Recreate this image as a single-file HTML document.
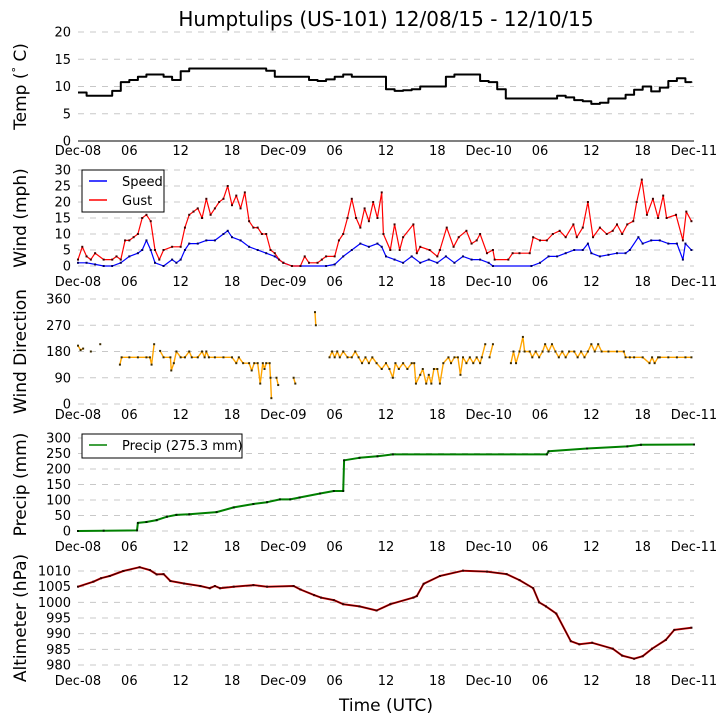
<!DOCTYPE html>
<html><head><meta charset="utf-8"><style>
html,body{margin:0;padding:0;background:#fff;}
svg{display:block;font-family:"DejaVu Sans","Liberation Sans",sans-serif;}
</style></head><body>
<svg id="chart" width="725" height="725" viewBox="0 0 725 725" xmlns="http://www.w3.org/2000/svg">
<text x="386" y="26" font-size="20" text-anchor="middle" fill="#000">Humptulips (US-101) 12/08/15 - 12/10/15</text>
<text x="386" y="711" font-size="17" text-anchor="middle" fill="#000">Time (UTC)</text>
</svg>
<script>
const xTickLabels = ["Dec-08","06","12","18","Dec-09","06","12","18","Dec-10","06","12","18","Dec-11"];
const tempTimes = [0,1,2,3,4,5,6,7,8,9,10,11,12,13,14,15,16,17,18,19,20,21,22,23,24,25,26,27,28,29,30,31,32,33,34,35,36,37,38,39,40,41,42,43,44,45,46,47,48,49,50,51,52,53,54,55,56,57,58,59,60,61,62,63,64,65,66,67,68,69,70,71,71.7];
const tempValues = [8.9,8.3,8.3,8.3,9.2,10.8,11.2,11.8,12.2,12.2,11.8,11.2,12.8,13.3,13.3,13.3,13.3,13.3,13.3,13.3,13.3,13.3,12.9,11.8,11.8,11.8,11.8,11.2,11.0,11.3,11.8,12.2,11.8,11.8,11.8,11.8,9.5,9.2,9.3,9.5,10,10,10,11.8,12.2,12.2,12.2,11,10.8,9.5,7.8,7.8,7.8,7.8,7.8,7.8,8.3,8.0,7.5,7.3,6.8,7.0,7.8,7.8,8.5,9.4,10,9.1,9.8,11,11.5,10.8,10.7];
const gustTimes = [0,0.5,1,1.5,2,3,4,4.5,5,5.5,6,6.5,7,7.5,8,8.5,9,9.5,10,11,12,12.5,13,13.5,14,14.5,15,15.5,16,16.5,17,17.5,18,18.5,19,19.5,20,20.5,21,21.5,22,22.5,23,23.5,24,25,26,26.5,27,28,28.5,29,30,30.5,31,31.5,32,32.5,33,33.5,34,34.5,35,35.5,35.7,36.5,37,37.6,38,39.2,39.6,40,41.1,42,42.3,43.1,43.9,44.5,45.4,46,46.6,47,47.8,48.5,48.7,50.3,50.8,51.6,52.8,53.2,54,54.8,55.5,56.3,57,57.9,58.3,59,59.6,60.2,61,61.8,62.5,63,63.6,64.2,64.9,65.3,65.9,66.5,67.2,67.8,68.4,68.8,69.9,70.7,71.1,71.7];
const gustValues = [2,6,3,2,4,2,2,3,2,8,8,9,10,15,16,14,5,2,5,6,6,12,16,17,18,15,21,16,18,20,21,25,19,22,18,23,14,12,12,10,10,5,4,2,1,0,0,3,1,1,2,3,3,8,10,15,21,15,12,18,14,20,15,23,10,5,13,5,9,13,4,6,5,3,5,12,6,9,11,7,8,10,4,5,2,2,4,4,4,9,8,8,10,11,9,13,9,12,20,9,12,10,11,13,10,13,14,20,27,16,21,15,22,15,16,8,17,14];
const speedTimes = [0,1,2,3,4,5,6,7,7.5,8,8.5,9,10,11,11.5,12,12.5,13,14,15,16,17,17.5,18,19,20,21,22,23,24,25,29,30,31,32,33,34,35,35.5,36,37,38,39,40,41,42,43,44,45,46,47,48,48.5,53,54,55,56,57,58,59,59.6,60,61,62,63,64,64.5,65.5,66,67,68,69,70,70.7,71,71.7];
const speedValues = [1,1,0.5,0,0,1,3,4,5,8,5,1,0,2,1,2,5,7,7,8,8,10,11,9,8,6,5,4,3,1,0,0,0.5,3,5,7,6,7,6,3,2,1,3,1,2,1,3,1,3,2,2,1,0,0,1,3,3,4,5,5,7,4,3,3.5,4,4,5,9,7,8,8,7,7,2,7,5];
const dirTimes = [0,0.3,0.6,0.9,1.5,2,2.6,3,4.9,5.1,6,7,8,8.4,8.6,8.9,9.2,9.6,10,10.8,10.9,11.2,11.5,12,12.5,13,13.3,14,14.5,14.8,15,15.3,16,17,18,18.5,18.8,19.3,20,20.3,20.6,21,21.3,21.6,21.8,22,22.4,22.5,22.6,22.8,23.2,23.4,24,25.2,25.4,26,27.7,27.8,28,29.4,29.7,30,30.3,30.6,31,31.5,32,32.4,32.8,33.2,33.6,34,34.4,34.9,35.5,36,36.4,36.8,37.1,37.5,38,38.5,39,39.3,39.5,40,40.3,40.7,41,41.3,41.6,42,42.3,42.7,43.3,43.6,44,44.4,44.7,45,45.4,45.8,46.2,46.6,47,47.2,47.6,47.8,48.1,48.5,49,50.6,50.9,51.2,51.6,52,52.2,52.8,53.1,53.5,53.9,54.3,54.6,55,55.4,55.8,56.2,56.6,57,57.4,58,58.4,58.8,59.2,59.6,60,60.4,60.8,61.2,62,63,63.8,64,64.5,65,66,66.8,67.1,67.4,67.8,68,69,70,71,71.7];
const dirValues = [200,185,190,null,180,null,205,null,135,160,160,160,160,160,135,205,null,182,160,160,115,140,180,160,160,180,160,160,180,160,180,160,160,160,160,140,160,140,140,115,140,140,70,140,120,140,140,90,20,null,90,65,null,90,70,null,315,270,null,160,180,160,180,160,180,160,160,180,160,140,160,140,160,140,120,140,120,90,140,120,140,120,140,140,70,100,120,70,100,70,120,120,70,140,160,140,160,160,100,160,140,160,140,160,140,160,205,null,160,205,null,140,180,140,180,230,180,180,160,180,160,180,205,180,205,180,160,180,160,180,180,160,180,160,180,205,180,205,180,180,180,180,160,160,160,160,140,160,140,160,160,160,160,160,160];
const precipTimes = [0,3,6.9,7,8,9.2,10.4,11.5,13,16.2,18.2,20.5,22.1,23.6,24.8,25.9,28.3,29.9,31,31.1,32.9,35,36.8,54.8,55,59.5,64.2,65.8,72];
const precipValues = [0,1,2,26,29,35,46,52,54,61,76,87,93,102,102,108,121,129,129,228,236,241,247,247,257,266,273,278,279];
const altTimes = [0,1.8,2.7,3.7,5.3,7.2,8.4,9.2,10,10.8,12.4,14.3,15.4,16,16.6,18.2,20.5,22.1,25.2,26,27.6,28.4,29.9,31,32.9,34.9,36.5,39.2,39.6,40.4,42.3,45,47.8,50.1,51.6,53.2,53.9,54.7,55.9,57.6,58.6,60.1,62.5,63.6,65,66,67.1,68.7,69.7,71.7];
const altValues = [1005,1006.6,1007.7,1008.4,1010,1011.2,1010.3,1008.9,1009,1006.8,1006,1005.2,1004.5,1005.2,1004.5,1005,1005.5,1005,1005.2,1004.1,1002.3,1001.5,1000.7,999.4,998.7,997.4,999.4,1001.5,1002,1005.9,1008.4,1010.1,1009.8,1009,1007.1,1004.5,1000,998.7,996.4,987.6,986.6,987.1,985.2,983,982,982.8,985.2,988,991.2,991.9];
const tempTicks = [0,5,10,15,20];
const windTicks = [0,5,10,15,20,25,30];
const dirTicks = [0,90,180,270,360];
const precipTicks = [0,50,100,150,200,250,300];
const altTicks = [980,985,990,995,1000,1005,1010];

const NS = "http://www.w3.org/2000/svg";
const svg = document.getElementById("chart");
const X0 = 78, X1 = 694;
function xScale(h){ return X0 + (X1 - X0) * h / 72; }
function lin(v0, y0, v1, y1){ return v => y0 + (v - v0) * (y1 - y0) / (v1 - v0); }
function mk(tag, attrs, parent){
  const e = document.createElementNS(NS, tag);
  for (const k in attrs) e.setAttribute(k, attrs[k]);
  (parent || svg).appendChild(e);
  return e;
}
const panels = [
  {name:"temp", ticks:tempTicks, y:lin(0,141,20,32), label:"Temp (\u00b0 C)", xl:155, solidZero:true},
  {name:"wind", ticks:windTicks, y:lin(0,266,30,170), label:"Wind (mph)", xl:286},
  {name:"direction", ticks:dirTicks, y:lin(0,404,360,299), label:"Wind Direction", xl:419},
  {name:"precip", ticks:precipTicks, y:lin(0,531,300,438), label:"Precip (mm)", xl:551},
  {name:"altimeter", ticks:altTicks, y:lin(980,665,1010,571), label:"Altimeter (hPa)", xl:685}
];
panels.forEach(p => {
  const g = mk("g", {});
  
  
  p.g = g;
  p.ticks.forEach(t => {
    const y = p.y(t);
    const solid = p.solidZero && t === 0;
    const ln = mk("line", {x1:X0, x2:X1, y1:y, y2:y, stroke: solid ? "#000" : "#c8c8c8", "stroke-width": 1, "stroke-dasharray": solid ? "none" : "6,6"}, g);
    
    
    const tx = mk("text", {x:71, y:y + 4.5, "font-size":13, "text-anchor":"end", fill:"#000"}, g);
    tx.textContent = t;
    
    
  });
  xTickLabels.forEach((lab, i) => {
    const tx = mk("text", {x:xScale(i * 6), y:p.xl, "font-size":13, "text-anchor":"middle", fill:"#000"}, g);
    tx.textContent = lab;
    
    
  });
  const yc = (p.y(p.ticks[0]) + p.y(p.ticks[p.ticks.length - 1])) / 2;
  const yl = mk("text", {x:0, y:0, "font-size":17, "text-anchor":"middle", fill:"#000", transform:"translate(26," + yc + ") rotate(-90)"}, g);
  if (p.name === "temp") {
    yl.appendChild(document.createTextNode("Temp ("));
    const sup = mk("tspan", {"font-size":11, dy:-6}, yl);
    sup.textContent = "\u00b0";
    const rest = mk("tspan", {dy:6}, yl);
    rest.textContent = " C)";
  } else {
    yl.textContent = p.label;
  }
  
  
});
function series(p, times, vals, color, width, name, markerColor, step){
  const n = Math.min(times.length, vals.length);
  let d = "", pen = false, lastY = 0;
  for (let i = 0; i < n; i++){
    if (vals[i] === null){ pen = false; continue; }
    const x = xScale(times[i]), y = p.y(vals[i]);
    if (pen && step) d += "L" + x.toFixed(1) + "," + lastY.toFixed(1);
    d += (pen ? "L" : "M") + x.toFixed(1) + "," + y.toFixed(1);
    lastY = y;
    pen = true;
  }
  const path = mk("path", {d:d, fill:"none", stroke:color, "stroke-width":width, "stroke-linejoin":"round"}, p.g);
  
  
  if (markerColor){
    const mg = mk("g", {fill:markerColor}, p.g);
    
    
    for (let i = 0; i < n; i++){
      if (vals[i] === null) continue;
      const r = mk("rect", {x:xScale(times[i]) - 1, y:p.y(vals[i]) - 1, width:2, height:2}, mg);
      
      
    }
  }
}
series(panels[0], tempTimes, tempValues, "#000", 2, "temperature", null, true);
series(panels[1], speedTimes, speedValues, "#0000ff", 1.2, "wind-speed", "#000060");
series(panels[1], gustTimes, gustValues, "#ff0000", 1.2, "wind-gust", "#400000");
series(panels[2], dirTimes, dirValues, "#ffa500", 1.4, "wind-direction", "#3a2a00");
series(panels[3], precipTimes, precipValues, "#008000", 2, "precip", "#002000");
series(panels[4], altTimes, altValues, "#ff0000", 2, "altimeter", "#300000");
const dk = mk("path", {d:"", fill:"none", stroke:"#400000", "stroke-width":1.2}, panels[4].g);


(function(){ let d=""; for(let i=0;i<altTimes.length;i++){ d+=(i?"L":"M")+xScale(altTimes[i]).toFixed(1)+","+panels[4].y(altValues[i]).toFixed(1);} dk.setAttribute("d", d); })();

function legend(g, x, y, w, h, items, name){
  const lg = mk("g", {}, g);
  
  
  mk("rect", {x:x, y:y, width:w, height:h, fill:"#fff", stroke:"#000", "stroke-width":1}, lg);
  items.forEach((it, i) => {
    const yy = y + 11 + i * 19;
    const ln = mk("line", {x1:x+7, x2:x+25, y1:yy, y2:yy, stroke:it.c, "stroke-width":1.5}, lg);
    
    
    const t = mk("text", {x:x+40, y:yy+5, "font-size":13, fill:"#000"}, lg);
    t.textContent = it.t;
    
    
  });
}
legend(panels[1].g, 82, 170, 82, 42, [{t:"Speed", c:"#0000ff"}, {t:"Gust", c:"#ff0000"}], "wind-legend");
legend(panels[3].g, 82, 434, 160, 24, [{t:"Precip (275.3 mm)", c:"#008000"}], "precip-legend");
</script>
</body></html>
